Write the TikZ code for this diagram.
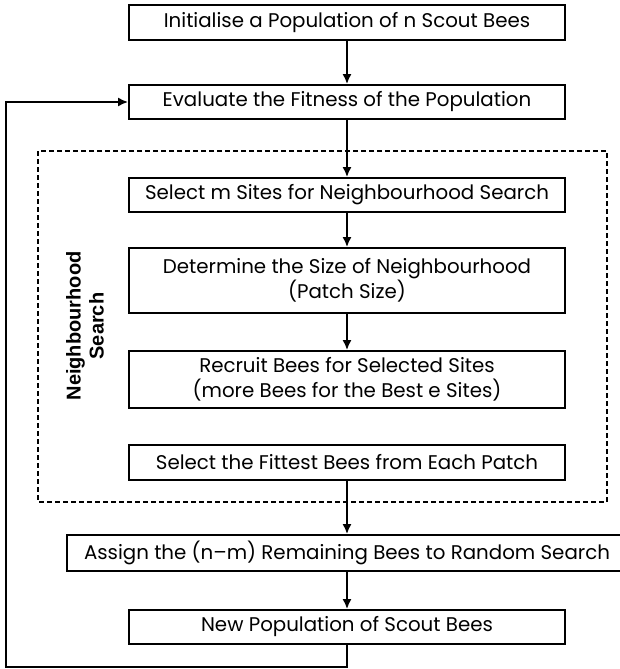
\documentclass[tikz,border=0pt]{standalone}
\usepackage{fontspec}
\usepackage{tikz}
\usetikzlibrary{arrows.meta,positioning,calc}
\tikzset{>={Latex[length=5pt,width=4.5pt]}}
\newfontfamily\nbfont{Liberation Sans}
\newfontfamily\gothfont{Poppins}
\newcommand{\stepfont}{\gothfont\fontsize{9.9}{12.5}\selectfont}
\tikzset{
  stepbox/.style={draw, line width=0.9pt, minimum width=218pt, inner sep=0pt, align=center, font=\stepfont},
  flow/.style={->, line width=0.9pt},
  nbframe/.style={draw, dash pattern=on 2.5pt off 1.5pt, line width=0.8pt}
}

\begin{document}
\begin{tikzpicture}[x=0.5pt,y=-0.5pt]
\useasboundingbox (0,0) rectangle (620,669);
% steps of the bees algorithm
\node[stepbox, minimum height=17.5pt] (init) at (347,22.5) {Initialise a Population of n Scout Bees};
\node[stepbox, minimum height=17pt] (eval) at (347,102) {Evaluate the Fitness of the Population};
\node[stepbox, minimum height=17pt] (sites) at (347,195) {Select m Sites for Neighbourhood Search};
\node[stepbox, minimum height=32.5pt] (size) at (347,280.5) {Determine the Size of Neighbourhood\\(Patch Size)};
\node[stepbox, minimum height=28.5pt] (recruit) at (347,379.5) {Recruit Bees for Selected Sites\\(more Bees for the Best e Sites)};
\node[stepbox, minimum height=17.5pt] (fittest) at (347,462.5) {Select the Fittest Bees from Each Patch};
\node[stepbox, minimum height=18pt, minimum width=280pt] (assign) at (347,553) {Assign the (n–m) Remaining Bees to Random Search};
\node[stepbox, minimum height=17pt] (newpop) at (347,627) {New Population of Scout Bees};
% neighbourhood search frame
\draw[nbframe] (38,151) rectangle (607,502);
\node[rotate=90, align=center, font=\nbfont\bfseries\fontsize{10}{11.5}\selectfont] (nblabel) at (85,326) {Neighbourhood\\Search};
% connectors
\draw[flow] (init) -- (eval);
\draw[flow] (eval) -- (sites);
\draw[flow] (sites) -- (size);
\draw[flow] (size) -- (recruit);
\draw[flow] (fittest) -- (assign);
\draw[flow] (assign) -- (newpop);
\coordinate (loopbr) at (347,667);
\coordinate (loopbl) at (6,667);
\coordinate (looptl) at (6,102);
\draw[flow] (newpop.south) -- (loopbr) -- (loopbl) -- (looptl) -- (eval.west);
\end{tikzpicture}
\end{document}
